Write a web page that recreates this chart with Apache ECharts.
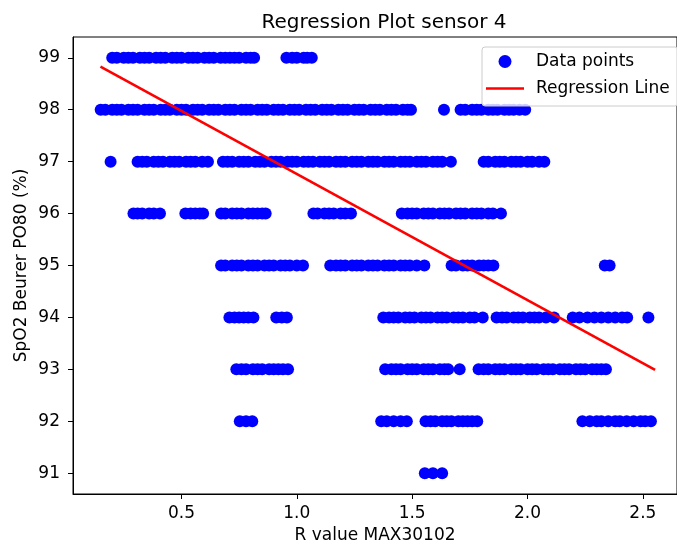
<!DOCTYPE html>
<html>
<head>
<meta charset="utf-8">
<script src="https://cdn.jsdelivr.net/npm/echarts@6/dist/echarts.min.js"></script>
<style>
  html, body { margin: 0; padding: 0; background: #fff; }
  #chart { width: 677px; height: 549px; }
</style>
</head>
<body>
<div id="chart"></div>
<script>
const levels = [99, 98, 97, 96, 95, 94, 93, 92, 91];

const x99 = [0.20, 0.22, 0.25, 0.27, 0.29, 0.32, 0.34, 0.36, 0.39, 0.41, 0.43, 0.46, 0.48, 0.50,
  0.53, 0.55, 0.57, 0.60, 0.62, 0.64, 0.67, 0.69, 0.71, 0.73, 0.75, 0.78, 0.80, 0.815,
  0.955, 0.98, 1.00, 1.03, 1.045, 1.065];
const x98 = [0.15, 0.17, 0.20, 0.22, 0.24, 0.27, 0.29, 0.31, 0.34, 0.36, 0.38, 0.41, 0.43, 0.45,
  0.48, 0.50, 0.52, 0.55, 0.57, 0.59, 0.62, 0.64, 0.66, 0.69, 0.71, 0.73, 0.76, 0.78, 0.80,
  0.83, 0.85, 0.87, 0.90, 0.92, 0.94, 0.97, 0.99, 1.01, 1.04, 1.06, 1.08, 1.11, 1.13, 1.15,
  1.18, 1.20, 1.22, 1.25, 1.27, 1.29, 1.32, 1.34, 1.36, 1.39, 1.41, 1.43, 1.46, 1.48, 1.495,
  1.638,
  1.71, 1.73, 1.76, 1.78, 1.80, 1.83, 1.85, 1.87, 1.90, 1.92, 1.94, 1.965, 1.99];
const x97 = [0.193,
  0.31, 0.33, 0.35, 0.38, 0.40, 0.42, 0.45, 0.47, 0.49, 0.52, 0.54, 0.56, 0.59, 0.615,
  0.68, 0.70, 0.72, 0.75, 0.77, 0.79, 0.82, 0.84, 0.86, 0.89, 0.91, 0.93, 0.96, 0.98, 1.00,
  1.03, 1.05, 1.07, 1.10, 1.12, 1.14, 1.17, 1.19, 1.21, 1.24, 1.26, 1.28, 1.31, 1.33, 1.35,
  1.38, 1.40, 1.42, 1.45, 1.47, 1.49, 1.52, 1.54, 1.56, 1.59, 1.61, 1.63, 1.668,
  1.81, 1.83, 1.86, 1.88, 1.90, 1.93, 1.95, 1.97, 2.00, 2.02, 2.05, 2.073];
const x96 = [0.292, 0.31, 0.33, 0.36, 0.38, 0.407,
  0.517, 0.54, 0.56, 0.58, 0.594,
  0.672, 0.69, 0.72, 0.74, 0.76, 0.79, 0.81, 0.83, 0.85, 0.865,
  1.072, 1.09, 1.12, 1.14, 1.16, 1.19, 1.21, 1.235,
  1.455, 1.48, 1.50, 1.52, 1.55, 1.57, 1.59, 1.62, 1.64, 1.66, 1.69, 1.71, 1.73, 1.76, 1.78,
  1.80, 1.83, 1.85, 1.885];
const x95 = [0.672, 0.69, 0.72, 0.74, 0.76, 0.79, 0.81, 0.83, 0.86, 0.88, 0.90, 0.93, 0.95, 0.97,
  1.00, 1.027,
  1.145, 1.17, 1.19, 1.21, 1.24, 1.26, 1.28, 1.31, 1.33, 1.35, 1.38, 1.40, 1.42, 1.45, 1.47,
  1.49, 1.52, 1.553,
  1.671, 1.69, 1.72, 1.74, 1.76, 1.79, 1.81, 1.83, 1.852,
  2.335, 2.356];
const x94 = [0.708, 0.73, 0.75, 0.77, 0.79, 0.812,
  0.911, 0.935, 0.957,
  1.375, 1.40, 1.42, 1.44, 1.47, 1.49, 1.51, 1.54, 1.56, 1.58, 1.61, 1.63, 1.65, 1.68, 1.70,
  1.72, 1.75, 1.77, 1.806,
  1.866, 1.89, 1.91, 1.94, 1.96, 1.98, 2.01, 2.03, 2.05, 2.08, 2.115,
  2.196, 2.225, 2.26, 2.29, 2.32, 2.35, 2.38, 2.41, 2.432,
  2.524];
const x93 = [0.738, 0.76, 0.78, 0.81, 0.83, 0.85, 0.88, 0.90, 0.92, 0.94, 0.962,
  1.383, 1.41, 1.43, 1.45, 1.48, 1.50, 1.52, 1.55, 1.57, 1.59, 1.62, 1.64, 1.656,
  1.706,
  1.788, 1.81, 1.83, 1.86, 1.88, 1.90, 1.93, 1.95, 1.97, 2.00, 2.02, 2.04, 2.07, 2.09, 2.11,
  2.14, 2.16, 2.18, 2.21, 2.23, 2.25, 2.28, 2.30, 2.32, 2.340];
const x92 = [0.753, 0.78, 0.807,
  1.366, 1.39, 1.42, 1.45, 1.477,
  1.558, 1.58, 1.60, 1.63, 1.65, 1.67, 1.70, 1.72, 1.74, 1.76, 1.782,
  2.238, 2.27, 2.30, 2.32, 2.35, 2.38, 2.40, 2.43, 2.46, 2.49, 2.51, 2.535];
const x91 = [1.555, 1.59, 1.63];

const rowX = [x99, x98, x97, x96, x95, x94, x93, x92, x91];

// fitted line end points
const regX = [0.149, 2.553];
const regY = [98.83, 92.99];

const xTicks = [0.5, 1.0, 1.5, 2.0, 2.5];
const yTicks = [91, 92, 93, 94, 95, 96, 97, 98, 99];

const points = [];
rowX.forEach((xs, i) => {
  xs.forEach(x => points.push([x, levels[i]]));
});
const regLine = regX.map((x, i) => [x, regY[i]]);

const FONT = 'DejaVu Sans';
const chart = echarts.init(document.getElementById('chart'));

const option = {
  animation: false,
  backgroundColor: '#fff',
  textStyle: { fontFamily: FONT },
  title: {
    text: 'Regression Plot sensor 4',
    left: 379,
    top: 8,
    textAlign: 'center',
    textStyle: { fontFamily: FONT, fontSize: 20, fontWeight: 'normal', color: '#000' }
  },
  grid: {
    left: 73,
    top: 37,
    width: 612,
    height: 459,
    show: true,
    borderColor: '#000',
    borderWidth: 1
  },
  legend: {
    orient: 'vertical',
    left: 482,
    top: 47,
    padding: [6, 8, 9, 4],
    itemGap: 10,
    itemWidth: 38,
    itemHeight: 13,
    borderColor: '#cccccc',
    borderWidth: 1,
    borderRadius: 3,
    backgroundColor: 'rgba(255,255,255,0.8)',
    textStyle: { fontFamily: FONT, fontSize: 17, color: '#000', padding: [0, 0, 0, 7] },
    data: [
      { name: 'Data points', icon: 'circle' },
      { name: 'Regression Line', icon: 'path://M0,0 L38,0 L38,2.6 L0,2.6 Z' }
    ]
  },
  xAxis: {
    type: 'value',
    min: 0.03,
    max: 2.648,
    name: 'R value MAX30102',
    nameLocation: 'middle',
    nameGap: 33,
    nameMoveOverlap: false,
    nameTextStyle: { fontFamily: FONT, fontSize: 17, color: '#000' },
    axisLine: { show: true, lineStyle: { color: '#000', width: 1 } },
    axisTick: { show: true, inside: false, length: 5, customValues: xTicks, lineStyle: { color: '#000' } },
    axisLabel: {
      customValues: xTicks,
      margin: 11,
      fontFamily: FONT,
      fontSize: 17,
      color: '#000',
      formatter: v => v.toFixed(1)
    },
    splitLine: { show: false }
  },
  yAxis: {
    type: 'value',
    min: 90.6,
    max: 99.4,
    name: 'SpO2 Beurer PO80 (%)',
    nameLocation: 'middle',
    nameGap: 43,
    nameMoveOverlap: false,
    nameTextStyle: { fontFamily: FONT, fontSize: 17, color: '#000' },
    axisLine: { show: true, lineStyle: { color: '#000', width: 1 } },
    axisTick: { show: true, inside: false, length: 5, customValues: yTicks, lineStyle: { color: '#000' } },
    axisLabel: {
      customValues: yTicks,
      margin: 13,
      fontFamily: FONT,
      fontSize: 17,
      color: '#000'
    },
    splitLine: { show: false }
  },
  series: [
    {
      name: 'Data points',
      type: 'scatter',
      data: points,
      symbol: 'circle',
      symbolSize: 12,
      itemStyle: { color: '#0000ff', opacity: 1 },
      z: 2
    },
    {
      name: 'Regression Line',
      type: 'line',
      data: regLine,
      showSymbol: false,
      symbol: 'none',
      lineStyle: { color: '#ff0000', width: 2.6 },
      itemStyle: { color: '#ff0000' },
      z: 3
    }
  ]
};

chart.setOption(option);
</script>
</body>
</html>
